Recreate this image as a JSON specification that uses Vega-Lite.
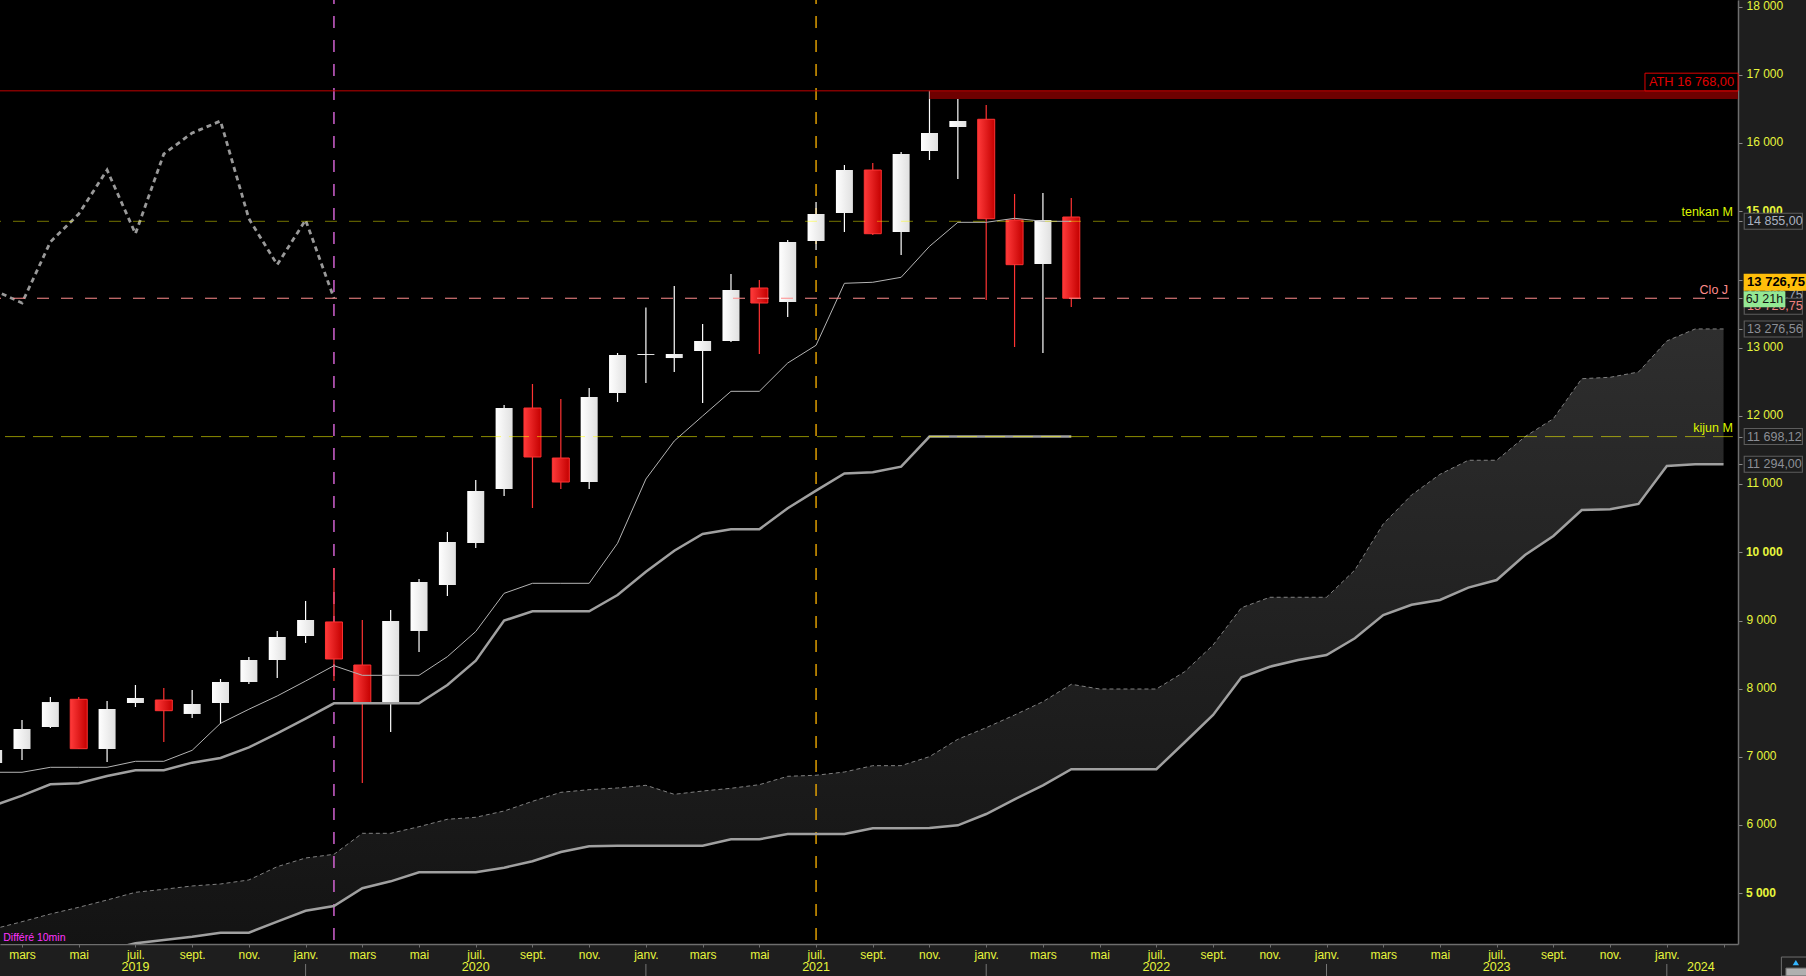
{
  "$schema": "https://vega.github.io/schema/vega-lite/v6.json",
  "width": 1738,
  "height": 944,
  "autosize": {"type": "none"},
  "padding": {"left": 0, "top": 0, "right": 68, "bottom": 32},
  "background": "#1e1e1e",
  "config": {
    "view": {"fill": "#000000", "stroke": null},
    "text": {"font": "Liberation Sans"}
  },
  "data": {"values": [
    {"m": -1, "open": 6912, "high": 7103, "low": 6912, "close": 7103, "tenkan": 6776, "kijun": 6286, "chikou": 13848, "cloud_top": 4478, "cloud_bot": 3803},
    {"m": 0, "open": 7117, "high": 7543, "low": 6956, "close": 7411, "tenkan": 6776, "kijun": 6433, "chikou": 13657, "cloud_top": 4585, "cloud_bot": 3906},
    {"m": 1, "open": 7440, "high": 7880, "low": 7425, "close": 7806, "tenkan": 6849, "kijun": 6600, "chikou": 14552, "cloud_top": 4698, "cloud_bot": 3994},
    {"m": 2, "open": 7846, "high": 7880, "low": 7117, "close": 7122, "tenkan": 6849, "kijun": 6614, "chikou": 14962, "cloud_top": 4796, "cloud_bot": 4097},
    {"m": 3, "open": 7117, "high": 7821, "low": 6927, "close": 7704, "tenkan": 6849, "kijun": 6721, "chikou": 15607, "cloud_top": 4903, "cloud_bot": 4170},
    {"m": 4, "open": 7792, "high": 8056, "low": 7733, "close": 7865, "tenkan": 6937, "kijun": 6805, "chikou": 14673, "cloud_top": 5016, "cloud_bot": 4268},
    {"m": 5, "open": 7836, "high": 8012, "low": 7220, "close": 7679, "tenkan": 6937, "kijun": 6805, "chikou": 15842, "cloud_top": 5060, "cloud_bot": 4317},
    {"m": 6, "open": 7631, "high": 7983, "low": 7572, "close": 7777, "tenkan": 7098, "kijun": 6917, "chikou": 16150, "cloud_top": 5109, "cloud_bot": 4365},
    {"m": 7, "open": 7792, "high": 8144, "low": 7484, "close": 8100, "tenkan": 7494, "kijun": 6985, "chikou": 16326, "cloud_top": 5138, "cloud_bot": 4424},
    {"m": 8, "open": 8100, "high": 8466, "low": 8071, "close": 8422, "tenkan": 7700, "kijun": 7142, "chikou": 14893, "cloud_top": 5197, "cloud_bot": 4424},
    {"m": 9, "open": 8422, "high": 8848, "low": 8158, "close": 8760, "tenkan": 7895, "kijun": 7347, "chikou": 14219, "cloud_top": 5392, "cloud_bot": 4585},
    {"m": 10, "open": 8774, "high": 9288, "low": 8672, "close": 9009, "tenkan": 8114, "kijun": 7562, "chikou": 14874, "cloud_top": 5519, "cloud_bot": 4746},
    {"m": 11, "open": 8980, "high": 9771, "low": 8114, "close": 8437, "tenkan": 8339, "kijun": 7787, "chikou": 13726.75, "cloud_top": 5573, "cloud_bot": 4815},
    {"m": 12, "open": 8349, "high": 9009, "low": 6619, "close": 7792, "tenkan": 8198, "kijun": 7787, "cloud_top": 5881, "cloud_bot": 5075},
    {"m": 13, "open": 7792, "high": 9155, "low": 7367, "close": 8994, "tenkan": 8198, "kijun": 7787, "cloud_top": 5881, "cloud_bot": 5177},
    {"m": 14, "open": 8848, "high": 9610, "low": 8540, "close": 9566, "tenkan": 8198, "kijun": 7787, "cloud_top": 5978, "cloud_bot": 5309},
    {"m": 15, "open": 9522, "high": 10299, "low": 9361, "close": 10153, "tenkan": 8471, "kijun": 8056, "cloud_top": 6087, "cloud_bot": 5309},
    {"m": 16, "open": 10138, "high": 11062, "low": 10065, "close": 10900, "tenkan": 8840, "kijun": 8412, "cloud_top": 6116, "cloud_bot": 5309},
    {"m": 17, "open": 10930, "high": 12161, "low": 10827, "close": 12117, "tenkan": 9400, "kijun": 9000, "cloud_top": 6208, "cloud_bot": 5377},
    {"m": 18, "open": 12117, "high": 12469, "low": 10651, "close": 11399, "tenkan": 9547, "kijun": 9136, "cloud_top": 6350, "cloud_bot": 5471},
    {"m": 19, "open": 11384, "high": 12249, "low": 10930, "close": 11032, "tenkan": 9547, "kijun": 9136, "cloud_top": 6482, "cloud_bot": 5607},
    {"m": 20, "open": 11032, "high": 12411, "low": 10930, "close": 12279, "tenkan": 9547, "kijun": 9136, "cloud_top": 6521, "cloud_bot": 5691},
    {"m": 21, "open": 12337, "high": 12924, "low": 12205, "close": 12895, "tenkan": 10134, "kijun": 9376, "cloud_top": 6546, "cloud_bot": 5700},
    {"m": 22, "open": 12895, "high": 13590, "low": 12484, "close": 12909, "tenkan": 11076, "kijun": 9717, "cloud_top": 6585, "cloud_bot": 5700},
    {"m": 23, "open": 12850, "high": 13906, "low": 12645, "close": 12909, "tenkan": 11634, "kijun": 10025, "cloud_top": 6453, "cloud_bot": 5700},
    {"m": 24, "open": 12953, "high": 13349, "low": 12191, "close": 13100, "tenkan": 12000, "kijun": 10270, "cloud_top": 6501, "cloud_bot": 5700},
    {"m": 25, "open": 13100, "high": 14082, "low": 13085, "close": 13848, "tenkan": 12362, "kijun": 10339, "cloud_top": 6541, "cloud_bot": 5793},
    {"m": 26, "open": 13877, "high": 13994, "low": 12909, "close": 13657, "tenkan": 12362, "kijun": 10339, "cloud_top": 6594, "cloud_bot": 5793},
    {"m": 27, "open": 13672, "high": 14581, "low": 13452, "close": 14552, "tenkan": 12777, "kijun": 10647, "cloud_top": 6717, "cloud_bot": 5871},
    {"m": 28, "open": 14566, "high": 15138, "low": 14434, "close": 14962, "tenkan": 13037, "kijun": 10905, "cloud_top": 6732, "cloud_bot": 5871},
    {"m": 29, "open": 14977, "high": 15681, "low": 14698, "close": 15607, "tenkan": 13946, "kijun": 11157, "cloud_top": 6780, "cloud_bot": 5871},
    {"m": 30, "open": 15607, "high": 15710, "low": 14654, "close": 14673, "tenkan": 13961, "kijun": 11175, "cloud_top": 6873, "cloud_bot": 5955},
    {"m": 31, "open": 14698, "high": 15871, "low": 14361, "close": 15842, "tenkan": 14034, "kijun": 11258, "cloud_top": 6873, "cloud_bot": 5955},
    {"m": 32, "open": 15886, "high": 16768, "low": 15754, "close": 16150, "tenkan": 14488, "kijun": 11698.12, "cloud_top": 7005, "cloud_bot": 5959},
    {"m": 33, "open": 16238, "high": 16663, "low": 15475, "close": 16326, "tenkan": 14840, "kijun": 11698.12, "cloud_top": 7260, "cloud_bot": 5998},
    {"m": 34, "open": 16351, "high": 16560, "low": 13701, "close": 14893, "tenkan": 14840, "kijun": 11698.12, "cloud_top": 7430, "cloud_bot": 6164},
    {"m": 35, "open": 14874, "high": 15255, "low": 13012, "close": 14219, "tenkan": 14899, "kijun": 11698.12, "cloud_top": 7616, "cloud_bot": 6380},
    {"m": 36, "open": 14229, "high": 15270, "low": 12924, "close": 14874, "tenkan": 14855, "kijun": 11698.12, "cloud_top": 7811, "cloud_bot": 6585},
    {"m": 37, "open": 14918, "high": 15197, "low": 13598, "close": 13726.75, "tenkan": 14855, "kijun": 11698.12, "cloud_top": 8066, "cloud_bot": 6820},
    {"m": 38, "cloud_top": 7997, "cloud_bot": 6820},
    {"m": 39, "cloud_top": 7997, "cloud_bot": 6820},
    {"m": 40, "cloud_top": 7997, "cloud_bot": 6820},
    {"m": 41, "cloud_top": 8251, "cloud_bot": 7216},
    {"m": 42, "cloud_top": 8642, "cloud_bot": 7616},
    {"m": 43, "cloud_top": 9189, "cloud_bot": 8169},
    {"m": 44, "cloud_top": 9342, "cloud_bot": 8324},
    {"m": 45, "cloud_top": 9342, "cloud_bot": 8422},
    {"m": 46, "cloud_top": 9342, "cloud_bot": 8496},
    {"m": 47, "cloud_top": 9742, "cloud_bot": 8741},
    {"m": 48, "cloud_top": 10417, "cloud_bot": 9082},
    {"m": 49, "cloud_top": 10842, "cloud_bot": 9233},
    {"m": 50, "cloud_top": 11145, "cloud_bot": 9302},
    {"m": 51, "cloud_top": 11351, "cloud_bot": 9483},
    {"m": 52, "cloud_top": 11351, "cloud_bot": 9595},
    {"m": 53, "cloud_top": 11697, "cloud_bot": 9962},
    {"m": 54, "cloud_top": 11961, "cloud_bot": 10241},
    {"m": 55, "cloud_top": 12547, "cloud_bot": 10622},
    {"m": 56, "cloud_top": 12568, "cloud_bot": 10632},
    {"m": 57, "cloud_top": 12645, "cloud_bot": 10710},
    {"m": 58, "cloud_top": 13100, "cloud_bot": 11267},
    {"m": 59, "cloud_top": 13276.56, "cloud_bot": 11292},
    {"m": 60, "cloud_top": 13276.56, "cloud_bot": 11294}
  ]},
  "layer": [
    {
      "mark": {
        "type": "area",
        "clip": true,
        "fill": {"x1": 0, "y1": 0, "x2": 0, "y2": 1, "gradient": "linear", "stops": [{"offset": 0, "color": "#2e2e2e"}, {"offset": 1, "color": "#121212"}]}
      },
      "encoding": {
        "x": {
          "field": "m",
          "type": "quantitative",
          "title": null,
          "scale": {"domain": [-0.776, 60.51], "nice": false, "zero": false, "padding": 0},
          "axis": {
            "values": [0, 2, 4, 6, 8, 10, 12, 14, 16, 18, 20, 22, 24, 26, 28, 30, 32, 34, 36, 38, 40, 42, 44, 46, 48, 50, 52, 54, 56, 58, 60],
            "labelExpr": "datum.value >= 60 ? '' : ['mars', 'mai', 'juil.', 'sept.', 'nov.', 'janv.'][(datum.value / 2) % 6]",
            "grid": false,
            "domainColor": "#6e6e6e",
            "domainWidth": 1.5,
            "tickColor": "#6e6e6e",
            "tickSize": 3,
            "labelColor": "#e6f53c",
            "labelFont": "Liberation Sans",
            "labelFontSize": 12,
            "labelPadding": 2,
            "labelOverlap": false,
            "labelFlush": false
          }
        },
        "y": {
          "field": "cloud_top",
          "type": "quantitative",
          "title": null,
          "scale": {"domain": [4258, 18100], "nice": false, "zero": false},
          "axis": {
            "orient": "right",
            "values": [5000, 6000, 7000, 8000, 9000, 10000, 11000, 12000, 13000, 14000, 15000, 16000, 17000, 18000, 14855, 13726.75, 13276.56, 11698.12, 11294],
            "labelExpr": "datum.value % 1000 === 0 && datum.value % 5000 !== 0 ? replace(format(datum.value, ','), ',', ' ') : ''",
            "grid": false,
            "domainColor": "#6e6e6e",
            "domainWidth": 1.5,
            "tickColor": "#8a8a8a",
            "tickSize": 4,
            "labelColor": "#e6f53c",
            "labelFont": "Liberation Sans",
            "labelFontSize": 12,
            "labelPadding": 4,
            "labelOffset": -1.5,
            "labelOverlap": false,
            "labelFlush": false
          }
        },
        "y2": {"field": "cloud_bot"}
      }
    },
    {
      "data": {"values": [{"name": "5 000", "m": 60.79, "p": 5000}, {"name": "10 000", "m": 60.79, "p": 10000}, {"name": "15 000", "m": 60.79, "p": 15000}]},
      "mark": {"type": "text", "align": "left", "baseline": "middle", "fontSize": 12, "fontWeight": "bold", "fill": "#e6f53c"},
      "encoding": {
        "x": {"field": "m", "type": "quantitative", "title": null},
        "y": {"field": "p", "type": "quantitative", "title": null},
        "text": {"field": "name"}
      }
    },
    {
      "data": {"values": [{"m": 11, "p": 18100, "p2": 4258}]},
      "mark": {"type": "rule", "stroke": "#f070f0", "strokeWidth": 1.3, "strokeDash": [12, 12], "strokeDashOffset": 8},
      "encoding": {"x": {"field": "m", "type": "quantitative", "title": null}, "y": {"field": "p", "type": "quantitative", "title": null}, "y2": {"field": "p2"}}
    },
    {
      "data": {"values": [{"m": 28, "p": 18100, "p2": 4258}]},
      "mark": {"type": "rule", "stroke": "#ffb400", "strokeWidth": 1.3, "strokeDash": [12, 12], "strokeDashOffset": 8},
      "encoding": {"x": {"field": "m", "type": "quantitative", "title": null}, "y": {"field": "p", "type": "quantitative", "title": null}, "y2": {"field": "p2"}}
    },
    {
      "transform": [{"filter": "datum.close >= datum.open"}],
      "mark": {"type": "rule", "stroke": "#ffffff", "strokeWidth": 1.2},
      "encoding": {"x": {"field": "m", "type": "quantitative", "title": null}, "y": {"field": "high", "type": "quantitative", "title": null}, "y2": {"field": "low"}}
    },
    {
      "transform": [{"filter": "datum.close < datum.open"}],
      "mark": {"type": "rule", "stroke": "#ff3333", "strokeWidth": 1.2},
      "encoding": {"x": {"field": "m", "type": "quantitative", "title": null}, "y": {"field": "high", "type": "quantitative", "title": null}, "y2": {"field": "low"}}
    },
    {
      "transform": [{"filter": "datum.close >= datum.open"}],
      "mark": {
        "type": "bar",
        "size": 17,
        "fill": {"x1": 0, "y1": 0, "x2": 1, "y2": 0, "gradient": "linear", "stops": [{"offset": 0, "color": "#ffffff"}, {"offset": 1, "color": "#e0e0e0"}]}
      },
      "encoding": {"x": {"field": "m", "type": "quantitative", "title": null}, "y": {"field": "open", "type": "quantitative", "title": null}, "y2": {"field": "close"}}
    },
    {
      "transform": [{"filter": "datum.close < datum.open"}],
      "mark": {
        "type": "bar",
        "size": 17,
        "stroke": "#ff3333",
        "strokeWidth": 1,
        "fill": {"x1": 0, "y1": 0, "x2": 1, "y2": 0, "gradient": "linear", "stops": [{"offset": 0, "color": "#ff3a3a"}, {"offset": 1, "color": "#c40000"}]}
      },
      "encoding": {"x": {"field": "m", "type": "quantitative", "title": null}, "y": {"field": "open", "type": "quantitative", "title": null}, "y2": {"field": "close"}}
    },
    {
      "mark": {"type": "line", "stroke": "#808080", "strokeWidth": 1, "strokeDash": [4, 3], "clip": true},
      "encoding": {"x": {"field": "m", "type": "quantitative", "title": null}, "y": {"field": "cloud_top", "type": "quantitative", "title": null}}
    },
    {
      "mark": {"type": "line", "stroke": "#a0a0a0", "strokeWidth": 2.5, "clip": true},
      "encoding": {"x": {"field": "m", "type": "quantitative", "title": null}, "y": {"field": "cloud_bot", "type": "quantitative", "title": null}}
    },
    {
      "mark": {"type": "line", "stroke": "#a0a0a0", "strokeWidth": 2.5},
      "encoding": {"x": {"field": "m", "type": "quantitative", "title": null}, "y": {"field": "kijun", "type": "quantitative", "title": null}}
    },
    {
      "mark": {"type": "line", "stroke": "#b4b4b4", "strokeWidth": 1},
      "encoding": {"x": {"field": "m", "type": "quantitative", "title": null}, "y": {"field": "tenkan", "type": "quantitative", "title": null}}
    },
    {
      "mark": {"type": "line", "stroke": "#999999", "strokeWidth": 2.8, "strokeDash": [5, 4]},
      "encoding": {"x": {"field": "m", "type": "quantitative", "title": null}, "y": {"field": "chikou", "type": "quantitative", "title": null}}
    },
    {
      "data": {"values": [{"m": 32, "m2": 60.51, "p": 16768, "p2": 16650}]},
      "mark": {"type": "rect", "fill": "#6e0000"},
      "encoding": {
        "x": {"field": "m", "type": "quantitative", "title": null},
        "x2": {"field": "m2"},
        "y": {"field": "p", "type": "quantitative", "title": null},
        "y2": {"field": "p2"}
      }
    },
    {
      "data": {"values": [{"m": -0.776, "m2": 60.51, "p": 16768}]},
      "mark": {"type": "rule", "stroke": "#c00000", "strokeWidth": 1},
      "encoding": {
        "x": {"field": "m", "type": "quantitative", "title": null},
        "x2": {"field": "m2"},
        "y": {"field": "p", "type": "quantitative", "title": null}
      }
    },
    {
      "data": {"values": [{"m": -0.776, "m2": 60.23, "p": 14855}]},
      "mark": {"type": "rule", "stroke": "#ffff00", "strokeOpacity": 0.45, "strokeWidth": 1, "strokeDash": [12, 12], "strokeDashOffset": 11},
      "encoding": {
        "x": {"field": "m", "type": "quantitative", "title": null},
        "x2": {"field": "m2"},
        "y": {"field": "p", "type": "quantitative", "title": null}
      }
    },
    {
      "data": {"values": [{"m": -0.776, "m2": 60.23, "p": 13726.75}]},
      "mark": {"type": "rule", "stroke": "#ff8c8c", "strokeWidth": 1, "strokeDash": [12, 12], "strokeDashOffset": 11},
      "encoding": {
        "x": {"field": "m", "type": "quantitative", "title": null},
        "x2": {"field": "m2"},
        "y": {"field": "p", "type": "quantitative", "title": null}
      }
    },
    {
      "data": {"values": [{"m": -0.776, "m2": 60.33, "p": 11698.12}]},
      "mark": {"type": "rule", "stroke": "#ffff00", "strokeOpacity": 0.55, "strokeWidth": 1, "strokeDash": [20, 8], "strokeDashOffset": 23},
      "encoding": {
        "x": {"field": "m", "type": "quantitative", "title": null},
        "x2": {"field": "m2"},
        "y": {"field": "p", "type": "quantitative", "title": null}
      }
    },
    {
      "data": {"values": [{"name": "tenkan M", "m": 60.33, "p": 14855}, {"name": "kijun M", "m": 60.33, "p": 11698.12}]},
      "mark": {"type": "text", "align": "right", "baseline": "middle", "dy": -9, "fontSize": 12.5, "fill": "#dcf500"},
      "encoding": {
        "x": {"field": "m", "type": "quantitative", "title": null},
        "y": {"field": "p", "type": "quantitative", "title": null},
        "text": {"field": "name"}
      }
    },
    {
      "data": {"values": [{"name": "Clo J", "m": 60.16, "p": 13726.75}]},
      "mark": {"type": "text", "align": "right", "baseline": "middle", "dy": -8, "fontSize": 12.5, "fill": "#ff8c8c"},
      "encoding": {
        "x": {"field": "m", "type": "quantitative", "title": null},
        "y": {"field": "p", "type": "quantitative", "title": null},
        "text": {"field": "name"}
      }
    },
    {
      "data": {"values": [{"m": 57.23, "m2": 60.51, "p": 17027, "p2": 16768}]},
      "mark": {"type": "rect", "fill": "#000000", "stroke": "#e00000", "strokeWidth": 1},
      "encoding": {
        "x": {"field": "m", "type": "quantitative", "title": null},
        "x2": {"field": "m2"},
        "y": {"field": "p", "type": "quantitative", "title": null},
        "y2": {"field": "p2"}
      }
    },
    {
      "data": {"values": [{"name": "ATH 16 768,00", "m": 58.87, "p": 16898}]},
      "mark": {"type": "text", "align": "center", "baseline": "middle", "fontSize": 12.8, "fill": "#e00000"},
      "encoding": {
        "x": {"field": "m", "type": "quantitative", "title": null},
        "y": {"field": "p", "type": "quantitative", "title": null},
        "text": {"field": "name"}
      }
    },
    {
      "data": {"values": [{"name": "Différé 10min", "m": -0.66, "p": 4346}]},
      "mark": {"type": "text", "align": "left", "baseline": "middle", "fontSize": 10.5, "fill": "#ff33ff"},
      "encoding": {
        "x": {"field": "m", "type": "quantitative", "title": null},
        "y": {"field": "p", "type": "quantitative", "title": null},
        "text": {"field": "name"}
      }
    },
    {
      "data": {"values": [{"m": 4, "p": 3921, "year": "2019"}, {"m": 16, "p": 3921, "year": "2020"}, {"m": 28, "p": 3921, "year": "2021"}, {"m": 40, "p": 3921, "year": "2022"}, {"m": 52, "p": 3921, "year": "2023"}, {"m": 59.2, "p": 3921, "year": "2024"}]},
      "mark": {"type": "text", "align": "center", "baseline": "middle", "fontSize": 12.5, "fill": "#e6f53c"},
      "encoding": {
        "x": {"field": "m", "type": "quantitative", "title": null},
        "y": {"field": "p", "type": "quantitative", "title": null},
        "text": {"field": "year"}
      }
    },
    {
      "data": {"values": [{"m": 10, "p": 3965, "p2": 3789}, {"m": 22, "p": 3965, "p2": 3789}, {"m": 34, "p": 3965, "p2": 3789}, {"m": 46, "p": 3965, "p2": 3789}, {"m": 58, "p": 3965, "p2": 3789}]},
      "mark": {"type": "rule", "stroke": "#777777", "strokeWidth": 1},
      "encoding": {"x": {"field": "m", "type": "quantitative", "title": null}, "y": {"field": "p", "type": "quantitative", "title": null}, "y2": {"field": "p2"}}
    },
    {
      "data": {"values": [{"m": 60.71, "m2": 62.8, "p": 14855}, {"m": 60.71, "m2": 62.8, "p": 13276.56}, {"m": 60.71, "m2": 62.8, "p": 11698.12}, {"m": 60.71, "m2": 62.8, "p": 11294}]},
      "mark": {"type": "rule", "stroke": "#5c5c5c", "strokeWidth": 17},
      "encoding": {
        "x": {"field": "m", "type": "quantitative", "title": null},
        "x2": {"field": "m2"},
        "y": {"field": "p", "type": "quantitative", "title": null}
      }
    },
    {
      "data": {"values": [{"m": 60.75, "m2": 62.76, "p": 14855}, {"m": 60.75, "m2": 62.76, "p": 13276.56}, {"m": 60.75, "m2": 62.76, "p": 11698.12}, {"m": 60.75, "m2": 62.76, "p": 11294}]},
      "mark": {"type": "rule", "stroke": "#1c1c1c", "strokeWidth": 15},
      "encoding": {
        "x": {"field": "m", "type": "quantitative", "title": null},
        "x2": {"field": "m2"},
        "y": {"field": "p", "type": "quantitative", "title": null}
      }
    },
    {
      "data": {"values": [{"m": 60.71, "m2": 62.8, "p": 13726.75}]},
      "mark": {"type": "rule", "stroke": "#5c5c5c", "strokeWidth": 17, "yOffset": -3},
      "encoding": {
        "x": {"field": "m", "type": "quantitative", "title": null},
        "x2": {"field": "m2"},
        "y": {"field": "p", "type": "quantitative", "title": null}
      }
    },
    {
      "data": {"values": [{"m": 60.75, "m2": 62.76, "p": 13726.75}]},
      "mark": {"type": "rule", "stroke": "#1c1c1c", "strokeWidth": 15, "yOffset": -3},
      "encoding": {
        "x": {"field": "m", "type": "quantitative", "title": null},
        "x2": {"field": "m2"},
        "y": {"field": "p", "type": "quantitative", "title": null}
      }
    },
    {
      "data": {"values": [{"m": 60.83, "p": 13726.75, "label": "13 726,75"}]},
      "mark": {"type": "text", "align": "left", "baseline": "middle", "dy": -3, "fontSize": 12.5, "fill": "#a0a6b4"},
      "encoding": {
        "x": {"field": "m", "type": "quantitative", "title": null},
        "y": {"field": "p", "type": "quantitative", "title": null},
        "text": {"field": "label"}
      }
    },
    {
      "data": {"values": [{"m": 60.71, "m2": 62.8, "p": 13726.75}]},
      "mark": {"type": "rule", "stroke": "#5c5c5c", "strokeWidth": 17, "yOffset": 8},
      "encoding": {
        "x": {"field": "m", "type": "quantitative", "title": null},
        "x2": {"field": "m2"},
        "y": {"field": "p", "type": "quantitative", "title": null}
      }
    },
    {
      "data": {"values": [{"m": 60.75, "m2": 62.76, "p": 13726.75}]},
      "mark": {"type": "rule", "stroke": "#1c1c1c", "strokeWidth": 15, "yOffset": 8},
      "encoding": {
        "x": {"field": "m", "type": "quantitative", "title": null},
        "x2": {"field": "m2"},
        "y": {"field": "p", "type": "quantitative", "title": null}
      }
    },
    {
      "data": {"values": [{"m": 60.83, "p": 13726.75, "label": "13 726,75"}]},
      "mark": {"type": "text", "align": "left", "baseline": "middle", "dy": 8, "fontSize": 12.5, "fill": "#f08080"},
      "encoding": {
        "x": {"field": "m", "type": "quantitative", "title": null},
        "y": {"field": "p", "type": "quantitative", "title": null},
        "text": {"field": "label"}
      }
    },
    {
      "data": {"values": [
        {"m": 60.83, "p": 14855, "label": "14 855,00", "kind": "a"},
        {"m": 60.83, "p": 13276.56, "label": "13 276,56", "kind": "b"},
        {"m": 60.83, "p": 11698.12, "label": "11 698,12", "kind": "b"},
        {"m": 60.83, "p": 11294, "label": "11 294,00", "kind": "b"}
      ]},
      "mark": {"type": "text", "align": "left", "baseline": "middle", "fontSize": 12.5},
      "encoding": {
        "x": {"field": "m", "type": "quantitative", "title": null},
        "y": {"field": "p", "type": "quantitative", "title": null},
        "text": {"field": "label"},
        "color": {"field": "kind", "type": "nominal", "legend": null, "scale": {"domain": ["a", "b"], "range": ["#aab2c2", "#8c8f96"]}}
      }
    },
    {
      "data": {"values": [{"m": 60.71, "m2": 63.1, "p": 13726.75}]},
      "mark": {"type": "rule", "stroke": "#ffbe0a", "strokeWidth": 17, "yOffset": -16},
      "encoding": {
        "x": {"field": "m", "type": "quantitative", "title": null},
        "x2": {"field": "m2"},
        "y": {"field": "p", "type": "quantitative", "title": null}
      }
    },
    {
      "data": {"values": [{"m": 60.83, "p": 13726.75, "label": "13 726,75"}]},
      "mark": {"type": "text", "align": "left", "baseline": "middle", "dy": -16, "fontSize": 13, "fontWeight": "bold", "fill": "#000000"},
      "encoding": {
        "x": {"field": "m", "type": "quantitative", "title": null},
        "y": {"field": "p", "type": "quantitative", "title": null},
        "text": {"field": "label"}
      }
    },
    {
      "data": {"values": [{"m": 60.71, "m2": 62.18, "p": 13726.75}]},
      "mark": {"type": "rule", "stroke": "#94e894", "strokeWidth": 16, "yOffset": 1},
      "encoding": {
        "x": {"field": "m", "type": "quantitative", "title": null},
        "x2": {"field": "m2"},
        "y": {"field": "p", "type": "quantitative", "title": null}
      }
    },
    {
      "data": {"values": [{"m": 60.78, "p": 13726.75, "label": "6J 21h"}]},
      "mark": {"type": "text", "align": "left", "baseline": "middle", "dy": 1, "fontSize": 12.5, "fill": "#111111"},
      "encoding": {
        "x": {"field": "m", "type": "quantitative", "title": null},
        "y": {"field": "p", "type": "quantitative", "title": null},
        "text": {"field": "label"}
      }
    },
    {
      "data": {"values": [{"m": 62.04, "m2": 63.2, "p": 4067, "p2": 3789}]},
      "mark": {"type": "rect", "fill": "#1e1e1e", "stroke": "#6e6e6e", "strokeWidth": 1},
      "encoding": {
        "x": {"field": "m", "type": "quantitative", "title": null},
        "x2": {"field": "m2"},
        "y": {"field": "p", "type": "quantitative", "title": null},
        "y2": {"field": "p2"}
      }
    },
    {
      "data": {"values": [{"m": 62.55, "p": 3985}]},
      "mark": {"type": "point", "shape": "triangle-up", "size": 40, "filled": true, "fill": "#33b5ff", "opacity": 1},
      "encoding": {
        "x": {"field": "m", "type": "quantitative", "title": null},
        "y": {"field": "p", "type": "quantitative", "title": null}
      }
    },
    {
      "data": {"values": [{"m": 62.2, "m2": 63.2, "p": 3905, "p2": 3790}]},
      "mark": {"type": "rect", "fill": "#b0b0b0", "stroke": "#6e6e6e", "strokeWidth": 1},
      "encoding": {
        "x": {"field": "m", "type": "quantitative", "title": null},
        "x2": {"field": "m2"},
        "y": {"field": "p", "type": "quantitative", "title": null},
        "y2": {"field": "p2"}
      }
    }
  ]
}
